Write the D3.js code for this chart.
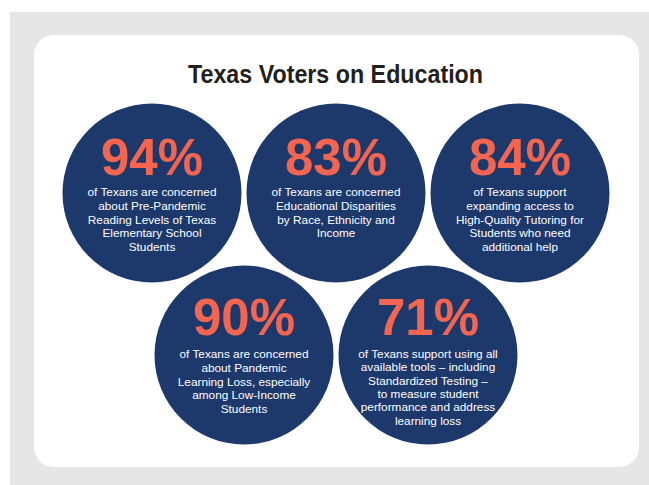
<!DOCTYPE html>
<html>
<head>
<meta charset="utf-8">
<script src="https://cdn.jsdelivr.net/npm/d3@7"></script>
<style>
  html, body { margin: 0; padding: 0; background: #ffffff; }
  svg { display: block; }
</style>
</head>
<body>
<svg id="chart" width="649" height="485"></svg>
<script>
// ---- Data ----
const title = "Texas Voters on Education";
const percents = [94, 83, 84, 90, 71];
const descriptions = [
  ["of Texans are concerned", "about Pre-Pandemic", "Reading Levels of Texas", "Elementary School", "Students"],
  ["of Texans are concerned", "Educational Disparities", "by Race, Ethnicity and", "Income"],
  ["of Texans support", "expanding access to", "High-Quality Tutoring for", "Students who need", "additional help"],
  ["of Texans are concerned", "about Pandemic", "Learning Loss, especially", "among Low-Income", "Students"],
  ["of Texans support using all", "available tools – including", "Standardized Testing –", "to measure student", "performance and address", "learning loss"]
];
const rows = [0, 0, 0, 1, 1];
const slots = [0, 1, 2, 0.5, 1.5];

// ---- Layout ----
const W = 649, H = 485;
const svg = d3.select("#chart");
const navy = "#1d386b", orange = "#f26550";

svg.append("rect").attr("x", 10).attr("y", 12).attr("width", W - 10).attr("height", H - 12).attr("fill", "#e6e6e6");
svg.append("rect").attr("x", 34).attr("y", 35).attr("width", 605).attr("height", 432).attr("rx", 20).attr("ry", 20).attr("fill", "#ffffff");

const t = svg.append("text").attr("x", 335.5).attr("y", 83).attr("text-anchor", "middle")
  .attr("font-family", "Liberation Sans, Arial, Helvetica, sans-serif").attr("font-weight", "bold")
  .attr("font-size", 25).attr("fill", "#231f20").text(title);
const tl = t.node().getComputedTextLength();
if (Math.abs(tl - 295) > 2) t.attr("textLength", 295).attr("lengthAdjust", "spacingAndGlyphs");

const x = d3.scaleLinear().domain([0, 2]).range([152, 520]);
const y = d3.scaleLinear().domain([0, 1]).range([193, 355]);
const r = 89.5;

const data = percents.map((p, i) => ({ p, lines: descriptions[i], row: rows[i], slot: slots[i] }));

const g = svg.selectAll("g.bubble").data(data).join("g").attr("class", "bubble")
  .attr("transform", d => `translate(${x(d.slot)},${y(d.row)})`);

g.append("circle").attr("r", r).attr("fill", navy);

g.append("text").attr("text-anchor", "middle")
  .attr("y", d => d.row === 0 ? -18 : -20)
  .attr("font-family", "Liberation Sans, Arial, Helvetica, sans-serif").attr("font-weight", "bold")
  .attr("font-size", 51).attr("fill", orange)
  .text(d => d.p + "%");

g.each(function(d) {
  const lh = d.lines.length > 5 ? 13.3 : 13.8;
  const tx = d3.select(this).append("text").attr("text-anchor", "middle")
    .attr("font-family", "Liberation Sans, Arial, Helvetica, sans-serif")
    .attr("font-size", 11.8).attr("fill", "#ffffff");
  d.lines.forEach((ln, k) => {
    tx.append("tspan").attr("x", 0).attr("y", 3 + k * lh).text(ln);
  });
});
</script>
</body>
</html>
